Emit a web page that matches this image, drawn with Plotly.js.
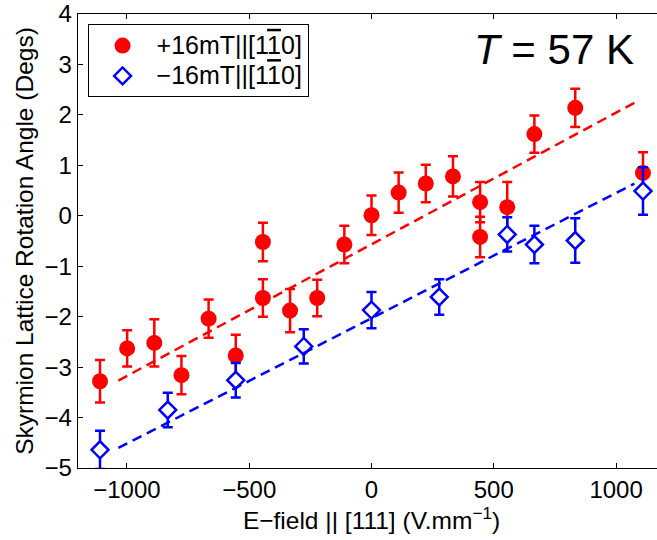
<!DOCTYPE html>
<html>
<head>
<meta charset="utf-8">
<script src="https://cdn.plot.ly/plotly-3.0.1.min.js"></script>
<style>
  html, body { margin: 0; padding: 0; overflow: hidden; background: #fff; }
  #chart { width: 700px; height: 540px; }
</style>
</head>
<body>
<div id="chart"></div>
<script>
// E-field values (V/mm) and rotation angles (degrees)
const redX   = [-1110, -999, -888, -777, -666, -555, -444, -444, -333, -222, -111, 0, 111, 222, 333, 444, 444, 555, 666, 833, 1110];
const redY   = [-3.28, -2.63, -2.52, -3.16, -2.04, -2.77, -0.52, -1.63, -1.88, -1.63, -0.57, 0.01, 0.46, 0.64, 0.78, 0.27, -0.42, 0.17, 1.62, 2.14, 0.85];
const redErr = [0.42, 0.36, 0.47, 0.38, 0.38, 0.41, 0.38, 0.37, 0.43, 0.36, 0.37, 0.39, 0.40, 0.37, 0.40, 0.40, 0.40, 0.50, 0.37, 0.38, 0.41];

const blueX   = [-1110, -833, -555, -277, 0, 277, 555, 666, 833, 1110];
const blueY   = [-4.64, -3.85, -3.26, -2.59, -1.87, -1.61, -0.37, -0.57, -0.49, 0.49];
const blueErr = [0.38, 0.34, 0.34, 0.34, 0.36, 0.35, 0.34, 0.37, 0.44, 0.47];

// linear fit lines
const redFitX  = [-1035, 1075];
const redFitY  = [-3.267, 2.24];
const blueFitX = [-1035, 1075];
const blueFitY = [-4.602, 0.639];

const xTicks = [-1000, -500, 0, 500, 1000];
const yTicks = [-5, -4, -3, -2, -1, 0, 1, 2, 3, 4];

const OVER1 = '<span style="text-decoration:overline">1</span>';
const redName  = '<span style="font-size:25px">+16mT||[1' + OVER1 + '0]</span>';
const blueName = '<span style="font-size:25px">\u221216mT||[1' + OVER1 + '0]</span>';

const FONT = '"Liberation Sans", Arial, Helvetica, sans-serif';

const traces = [
  {
    x: redX, y: redY, type: 'scatter', mode: 'markers', name: redName,
    marker: { symbol: 'circle', size: 16, color: '#ff0000', line: { width: 0 } },
    error_y: { type: 'data', array: redErr, visible: true, color: '#ff0000', thickness: 2.5, width: 5 },
    cliponaxis: true
  },
  {
    x: blueX, y: blueY, type: 'scatter', mode: 'markers', name: blueName,
    marker: { symbol: 'diamond', size: 13, color: '#ffffff', line: { width: 2.5, color: '#0000ff' } },
    error_y: { type: 'data', array: blueErr, visible: true, color: '#0000ff', thickness: 2.5, width: 5 },
    cliponaxis: true
  },
  {
    x: redFitX, y: redFitY, type: 'scatter', mode: 'lines', showlegend: false, hoverinfo: 'skip',
    line: { color: '#ff0000', width: 2.5, dash: '10px,6px' }
  },
  {
    x: blueFitX, y: blueFitY, type: 'scatter', mode: 'lines', showlegend: false, hoverinfo: 'skip',
    line: { color: '#0000ff', width: 2.5, dash: '10px,6px' }
  }
];

const axisCommon = {
  showline: true, linecolor: '#000', linewidth: 1.3, mirror: 'ticks',
  ticks: 'inside', ticklen: 5, tickwidth: 1, tickcolor: '#000',
  showgrid: false, zeroline: false,
  tickfont: { family: FONT, size: 24, color: '#000' }
};

const layout = {
  width: 700, height: 540,
  margin: { l: 78, r: 35, t: 14, b: 72 },
  paper_bgcolor: '#fff', plot_bgcolor: '#fff',
  font: { family: FONT, color: '#000' },
  showlegend: true,
  xaxis: Object.assign({}, axisCommon, {
    range: [-1200, 1200], tickvals: xTicks,
    title: { text: 'E\u2212field || [111] (V.mm<sup>\u22121</sup>)', font: { family: FONT, size: 24.5, color: '#000' }, standoff: 6 }
  }),
  yaxis: Object.assign({}, axisCommon, {
    range: [-5, 4], tickvals: yTicks,
    title: { text: 'Skyrmion Lattice Rotation Angle (Degs)', font: { family: FONT, size: 24.5, color: '#000' }, standoff: 4 }
  }),
  legend: {
    x: 0.0163, y: 0.977, xanchor: 'left', yanchor: 'top',
    bgcolor: '#fff', bordercolor: '#000', borderwidth: 1,
    font: { family: FONT, size: 21, color: '#000' },
    itemwidth: 58, tracegroupgap: 0
  },
  annotations: [
    {
      xref: 'paper', yref: 'paper', x: 0.811, y: 0.9217,
      xanchor: 'center', yanchor: 'middle', showarrow: false,
      text: '<i>T</i> = 57 K',
      font: { family: FONT, size: 42, color: '#000' }
    }
  ]
};

Plotly.newPlot('chart', traces, layout, { displayModeBar: false, staticPlot: true });
</script>
</body>
</html>
